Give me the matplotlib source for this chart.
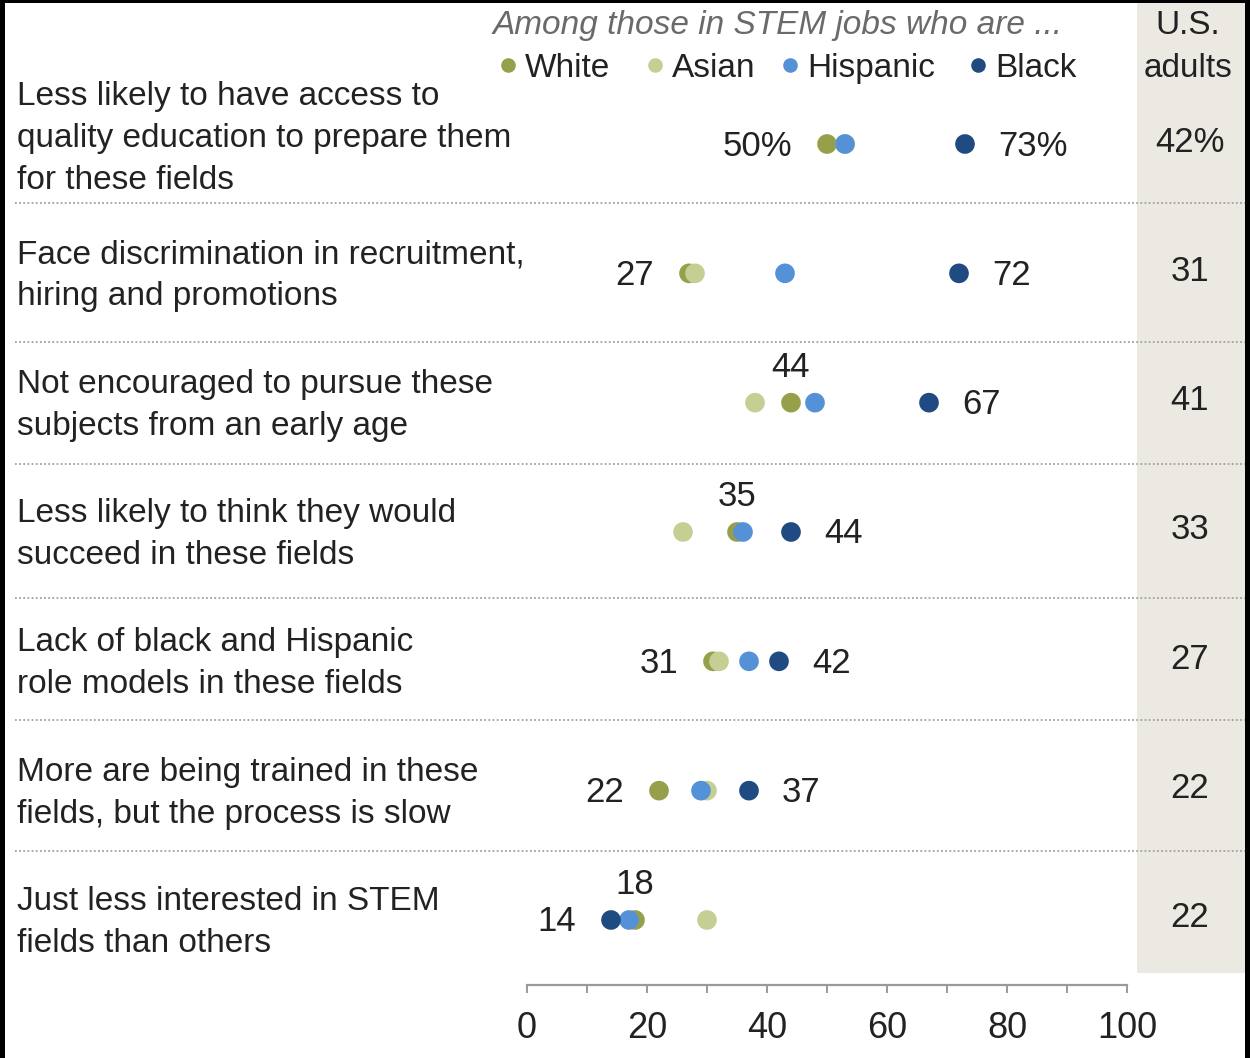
import matplotlib
matplotlib.use("Agg")
import matplotlib.pyplot as plt
from matplotlib.patches import Rectangle
from matplotlib.lines import Line2D
from matplotlib.transforms import blended_transform_factory

plt.rcParams['font.family'] = ['Liberation Sans', 'DejaVu Sans']

# Reasons, share saying each is a major reason (%)
categories = [
    "Less likely to have access to\nquality education to prepare them\nfor these fields",
    "Face discrimination in recruitment,\nhiring and promotions",
    "Not encouraged to pursue these\nsubjects from an early age",
    "Less likely to think they would\nsucceed in these fields",
    "Lack of black and Hispanic\nrole models in these fields",
    "More are being trained in these\nfields, but the process is slow",
    "Just less interested in STEM\nfields than others",
]
white = [50, 27, 44, 35, 31, 22, 18]
asian = [53, 28, 38, 26, 32, 30, 30]
hispanic = [53, 43, 48, 36, 37, 29, 17]
black = [73, 72, 67, 44, 42, 37, 14]
us_adults = [42, 31, 41, 33, 27, 22, 22]

group_names = ["White", "Asian", "Hispanic", "Black"]
group_colors = ["#96A04B", "#C5CE93", "#5591D7", "#1F4A82"]
group_values = [white, asian, hispanic, black]

# which value is labelled in each row: (series, placement, suffix)
left_labels = [("White", "left", "%"), ("White", "left", ""), ("White", "above", ""),
               ("White", "above", ""), ("White", "left", ""), ("White", "left", ""),
               ("White", "above", "")]
right_labels = [("Black", "right", "%"), ("Black", "right", ""), ("Black", "right", ""),
                ("Black", "right", ""), ("Black", "right", ""), ("Black", "right", ""),
                ("Black", "left", "")]

tick_values = [0, 20, 40, 60, 80, 100]

W, H = 1250, 1058
fig = plt.figure(figsize=(W / 100, H / 100), dpi=100)
fig.patch.set_facecolor("white")


def fx(px):
    return px / W


def fy(py):
    return 1 - py / H


TXT = "#222222"
FS = 24      # label text
NFS = 25     # value labels
TFS = 26     # tick labels

# shaded column for U.S. adults
fig.patches.append(Rectangle((fx(1137), fy(973)), fx(1245) - fx(1137), fy(0) - fy(973),
                             transform=fig.transFigure, facecolor="#ECE9E3",
                             edgecolor="none", zorder=-5))

# dot plot axes
ax = fig.add_axes([fx(527), fy(985), fx(1127) - fx(527), fy(0) - fy(985)])
ax.set_facecolor("none")
n = len(categories)
row_gap = 129.33
ax.set_xlim(0, 100)
ax.set_ylim((985 - 144) / row_gap, -144 / row_gap)

for name, color, vals in zip(group_names, group_colors, group_values):
    ax.scatter(vals, range(n), s=200, color=color, edgecolors="none", zorder=3,
               clip_on=False)

lookup = dict(zip(group_names, group_values))
for i in range(n):
    for series, place, suffix in (left_labels[i], right_labels[i]):
        v = lookup[series][i]
        txt = f"{v}{suffix}"
        if place == "left":
            ax.annotate(txt, (v, i), xytext=(-35, -2), textcoords="offset pixels",
                        ha="right", va="center", fontsize=NFS, color=TXT)
        elif place == "right":
            ax.annotate(txt, (v, i), xytext=(33, -2), textcoords="offset pixels",
                        ha="left", va="center", fontsize=NFS, color=TXT)
        else:
            ax.annotate(txt, (v, i), xytext=(0, 35), textcoords="offset pixels",
                        ha="center", va="center", fontsize=NFS, color=TXT)

for s in ["top", "left", "right"]:
    ax.spines[s].set_visible(False)
ax.spines["bottom"].set_color("#9A9A9A")
ax.spines["bottom"].set_linewidth(1.6)
ax.set_yticks([])
ax.set_xticks(tick_values)
ax.set_xticks(range(10, 100, 20), minor=True)
ax.set_xticklabels([str(t) for t in tick_values])
ax.tick_params(axis="x", which="both", direction="out", length=6, width=1.4,
               color="#9A9A9A", pad=13, labelsize=TFS, labelcolor=TXT)

blend = blended_transform_factory(fig.transFigure, ax.transData)

# category labels, one line at a time on a shared baseline grid
LINE = 42
for i, cat in enumerate(categories):
    lines = cat.split("\n")
    m = len(lines)
    center = -1 - 8 * (m - 2)
    for k, line in enumerate(lines):
        off = center + LINE * (k - (m - 1) / 2) + 12
        ax.text(fx(17), i + off / row_gap, line, transform=blend,
                ha="left", va="baseline", fontsize=FS, color=TXT)

# U.S. adults column
for i, v in enumerate(us_adults):
    txt = f"{v}%" if i == 0 else f"{v}"
    ax.text(fx(1190), i - 2 / row_gap, txt, transform=blend,
            ha="center", va="center", fontsize=NFS, color=TXT)
fig.text(fx(1188), fy(34), "U.S.", ha="center", va="baseline", fontsize=FS, color=TXT)
fig.text(fx(1188), fy(77), "adults", ha="center", va="baseline", fontsize=FS, color=TXT)

# dotted separators between rows
sep_rows = [203, 342, 464, 598, 720, 851]
for py in sep_rows:
    fig.add_artist(Line2D([fx(15), fx(1245)], [fy(py), fy(py)], transform=fig.transFigure,
                          color="#A0A0A0", linewidth=1.3, linestyle=(0, (1, 1.3))))

# legend header
fig.text(fx(493), fy(34), "Among those in STEM jobs who are ...", ha="left", va="baseline",
         fontsize=FS, style="italic", color="#6A6A6A")
legend_x = [508, 655, 790, 978]
for px, name, color in zip(legend_x, group_names, group_colors):
    fig.add_artist(Line2D([fx(px)], [fy(65)], transform=fig.transFigure, marker="o",
                          markersize=10.5, markerfacecolor=color, markeredgecolor="none",
                          linestyle="none"))
    fig.text(fx(px + 17), fy(77), name, ha="left", va="baseline", fontsize=FS, color=TXT)

# black frame edges
for rect in [(0, 0, 5, H), (0, 0, W, 3), (1245, 0, 5, H)]:
    x0, y0, w, h = rect
    fig.patches.append(Rectangle((fx(x0), fy(y0 + h)), w / W, h / H,
                                 transform=fig.transFigure, facecolor="black",
                                 edgecolor="none", zorder=10))

fig.savefig("out.png", dpi=100)
